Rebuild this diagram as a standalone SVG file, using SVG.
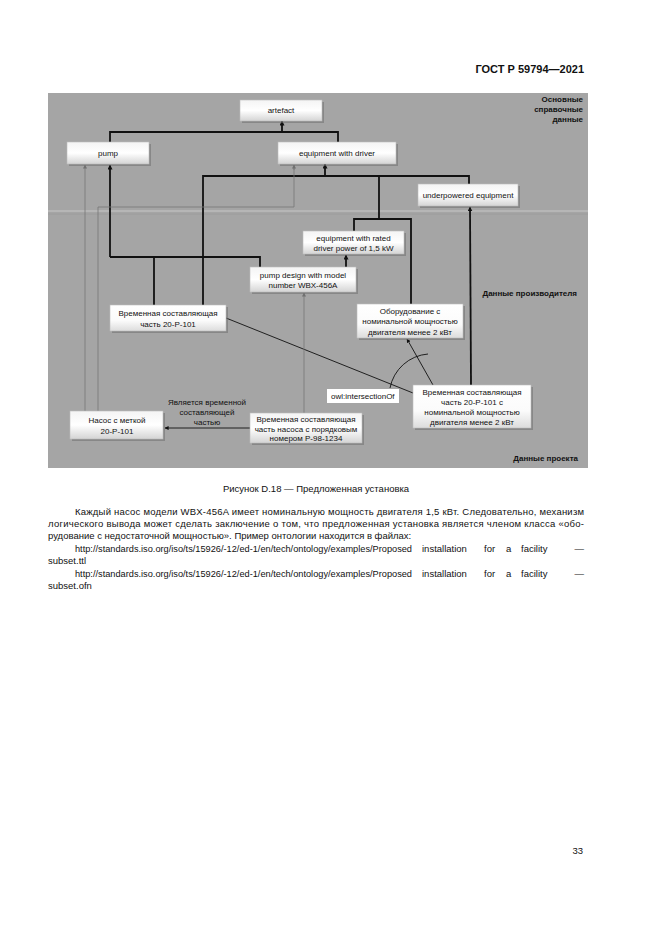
<svg xmlns="http://www.w3.org/2000/svg" width="661" height="935" viewBox="0 0 661 935">
<defs>
<linearGradient id="gTop" x1="0" y1="0" x2="0" y2="1">
<stop offset="0" stop-color="#f4f4f4"/><stop offset="0.5" stop-color="#ffffff"/><stop offset="1" stop-color="#d4d4d4"/>
</linearGradient>
<linearGradient id="gLow" x1="0" y1="0" x2="0" y2="1">
<stop offset="0" stop-color="#ffffff"/><stop offset="0.6" stop-color="#fbfbfb"/><stop offset="1" stop-color="#dcdcdc"/>
</linearGradient>
<marker id="ah" viewBox="0 0 10 10" refX="9" refY="5" markerWidth="5" markerHeight="5" orient="auto" markerUnits="userSpaceOnUse">
<path d="M0,0 L10,5 L0,10 z" fill="#111"/>
</marker>
<marker id="ahs" viewBox="0 0 10 10" refX="9" refY="5" markerWidth="4" markerHeight="4" orient="auto" markerUnits="userSpaceOnUse">
<path d="M0,0 L10,5 L0,10 z" fill="#111"/>
</marker>
<marker id="ahg" viewBox="0 0 10 10" refX="9" refY="5" markerWidth="4" markerHeight="4" orient="auto" markerUnits="userSpaceOnUse">
<path d="M0,0 L10,5 L0,10 z" fill="#707070"/>
</marker>
</defs>
<style>
.t{font-family:"Liberation Sans",Arial,sans-serif;fill:#111}
.box{font-size:8px;text-anchor:middle}
.bx{stroke:#bdbdbd;stroke-width:0.6}
.top{fill:url(#gTop)}
.low{fill:url(#gLow)}
.sh{fill:#6f6f6f;opacity:0.55}
.thick{fill:none;stroke:#111;stroke-width:1.8}
.thin{fill:none;stroke:#111;stroke-width:0.9}
.gray{fill:none;stroke:#777;stroke-width:0.8}
.lbl{font-size:8px;font-weight:bold;text-anchor:end}
.p{font-size:9.5px}
</style>
<rect width="661" height="935" fill="#ffffff"/>
<text class="t" x="584" y="73" font-size="11" font-weight="bold" text-anchor="end">ГОСТ Р 59794—2021</text>

<g id="panel">
<rect x="48" y="93" width="540" height="375" fill="#a5a5a5"/>
<line x1="48" y1="211" x2="588" y2="211" stroke="#b6b6b6" stroke-width="2"/>
<line x1="48" y1="214" x2="588" y2="214" stroke="#9c9c9c" stroke-width="1"/>
<text class="t lbl" x="583" y="102">Основные</text>
<text class="t lbl" x="583" y="112">справочные</text>
<text class="t lbl" x="583" y="122">данные</text>
<text class="t lbl" x="577" y="296">Данные производителя</text>
<text class="t lbl" x="578" y="461">Данные проекта</text>
</g>

<g id="connectors">
<polyline class="thick" points="110,142 110,132 338,132 338,142"/>
<line class="thick" x1="282" y1="132" x2="282" y2="121" marker-end="url(#ah)"/>
<polyline class="thick" points="203,305 203,176 469,176 469,184"/>
<line class="thick" x1="325" y1="176" x2="325" y2="164" marker-end="url(#ah)"/>
<line class="thick" x1="379" y1="176" x2="379" y2="219"/>
<polyline class="thick" points="354,231 354,219 411,219 411,304"/>
<polyline class="thick" points="260,267 260,257 110,257"/>
<line class="thick" x1="110" y1="257" x2="110" y2="165" marker-end="url(#ah)"/>
<line class="thick" x1="154" y1="257" x2="154" y2="305"/>
<line class="thick" x1="346" y1="267" x2="346" y2="255" marker-end="url(#ah)"/>
<line class="thick" x1="471" y1="385" x2="470" y2="207" marker-end="url(#ah)"/>
<line class="thin" x1="226" y1="318" x2="413" y2="393"/>
<line class="thin" x1="433" y1="385" x2="407" y2="339" marker-end="url(#ahs)"/>
<path class="thin" d="M390,388 A42,42 0 0 1 428,354"/>
<line class="thin" x1="250" y1="428" x2="165" y2="428" marker-end="url(#ahs)"/>
<line class="gray" x1="85" y1="411" x2="85" y2="165" marker-end="url(#ahg)"/>
<polyline class="gray" points="98,411 98,207 294,207 294,165"/>
<line class="gray" x1="294" y1="170" x2="294" y2="165" marker-end="url(#ahg)"/>
<line class="gray" x1="304" y1="413" x2="304" y2="293" marker-end="url(#ahg)"/>
<text class="t box" x="207" y="405">Является временной</text>
<text class="t box" x="207" y="415">составляющей</text>
<text class="t box" x="207" y="425">частью</text>
</g>

<g id="n-artefact">
<rect class="sh" x="242" y="102" width="82" height="21"/>
<rect class="bx top" x="240" y="100" width="82" height="21"/>
<text class="t box" x="281" y="113">artefact</text>
</g>
<g id="n-pump">
<rect class="sh" x="69" y="144" width="82" height="22"/>
<rect class="bx top" x="67" y="142" width="82" height="22"/>
<text class="t box" x="108" y="156">pump</text>
</g>
<g id="n-eqdriver">
<rect class="sh" x="280" y="144" width="118" height="22"/>
<rect class="bx top" x="278" y="142" width="118" height="22"/>
<text class="t box" x="337" y="156">equipment with driver</text>
</g>
<g id="n-underpowered">
<rect class="sh" x="420" y="186" width="100" height="22"/>
<rect class="bx top" x="418" y="184" width="100" height="22"/>
<text class="t box" x="468" y="198">underpowered equipment</text>
</g>
<g id="n-rated">
<rect class="sh" x="305" y="233" width="101" height="23"/>
<rect class="bx top" x="303" y="231" width="101" height="23"/>
<text class="t box" x="353.5" y="240.5">equipment with rated</text>
<text class="t box" x="353.5" y="250.5">driver power of 1,5 kW</text>
</g>
<g id="n-pumpdesign">
<rect class="sh" x="252" y="269" width="106" height="25"/>
<rect class="bx top" x="250" y="267" width="106" height="25"/>
<text class="t box" x="303" y="277.5">pump design with model</text>
<text class="t box" x="303" y="288">number WBX-456A</text>
</g>
<g id="n-tp20p101">
<rect class="sh" x="112" y="307" width="116" height="26"/>
<rect class="bx low" x="110" y="305" width="116" height="26"/>
<text class="t box" x="168" y="315.5">Временная составляющая</text>
<text class="t box" x="168" y="326.5">часть 20-P-101</text>
</g>
<g id="n-equnder2">
<rect class="sh" x="359" y="306" width="106" height="34"/>
<rect class="bx low" x="357" y="304" width="106" height="34"/>
<text class="t box" x="410" y="314">Оборудование с</text>
<text class="t box" x="410" y="324">номинальной мощностью</text>
<text class="t box" x="410" y="334.5">двигателя менее 2 кВт</text>
</g>
<g id="n-owl">
<rect x="327" y="389" width="72" height="14" fill="#ffffff"/>
<text class="t" x="331" y="399" font-size="8">owl:intersectionOf</text>
</g>
<g id="n-tpunder">
<rect class="sh" x="415" y="387" width="118" height="43"/>
<rect class="bx low" x="413" y="385" width="118" height="43"/>
<text class="t box" x="472" y="395">Временная составляющая</text>
<text class="t box" x="472" y="405">часть 20-P-101 с</text>
<text class="t box" x="472" y="415">номинальной мощностью</text>
<text class="t box" x="472" y="425">двигателя менее 2 кВт</text>
</g>
<g id="n-pumptag">
<rect class="sh" x="72" y="413" width="93" height="28"/>
<rect class="bx top" x="70" y="411" width="93" height="28"/>
<text class="t box" x="117" y="422.5">Насос с меткой</text>
<text class="t box" x="117" y="433.5">20-P-101</text>
</g>
<g id="n-tpserial">
<rect class="sh" x="252" y="415" width="112" height="30"/>
<rect class="bx top" x="250" y="413" width="112" height="30"/>
<text class="t box" x="306" y="421.5">Временная составляющая</text>
<text class="t box" x="306" y="431.5">часть насоса с порядковым</text>
<text class="t box" x="306" y="441">номером P-98-1234</text>
</g>

<g id="body">
<text class="t" x="316" y="492" font-size="9.5" text-anchor="middle">Рисунок D.18 — Предложенная установка</text>
<text class="t p" x="75" y="515" textLength="509" lengthAdjust="spacing">Каждый насос модели WBX-456A имеет номинальную мощность двигателя 1,5 кВт. Следовательно, механизм</text>
<text class="t p" x="48" y="527" textLength="536" lengthAdjust="spacing">логического вывода может сделать заключение о том, что предложенная установка является членом класса «обо-</text>
<text class="t p" x="48" y="539">рудование с недостаточной мощностью». Пример онтологии находится в файлах:</text>
<text class="t p" x="75" y="552" textLength="337" lengthAdjust="spacingAndGlyphs">http://standards.iso.org/iso/ts/15926/-12/ed-1/en/tech/ontology/examples/Proposed</text>
<text class="t p" x="422" y="552">installation</text>
<text class="t p" x="484" y="552">for</text>
<text class="t p" x="506" y="552">a</text>
<text class="t p" x="521" y="552">facility</text>
<text class="t p" x="584" y="552" text-anchor="end">—</text>
<text class="t p" x="48" y="564">subset.ttl</text>
<text class="t p" x="75" y="577" textLength="337" lengthAdjust="spacingAndGlyphs">http://standards.iso.org/iso/ts/15926/-12/ed-1/en/tech/ontology/examples/Proposed</text>
<text class="t p" x="422" y="577">installation</text>
<text class="t p" x="484" y="577">for</text>
<text class="t p" x="506" y="577">a</text>
<text class="t p" x="521" y="577">facility</text>
<text class="t p" x="584" y="577" text-anchor="end">—</text>
<text class="t p" x="48" y="589">subset.ofn</text>
<text class="t" x="583" y="854" font-size="9.5" text-anchor="end">33</text>
</g>
</svg>
